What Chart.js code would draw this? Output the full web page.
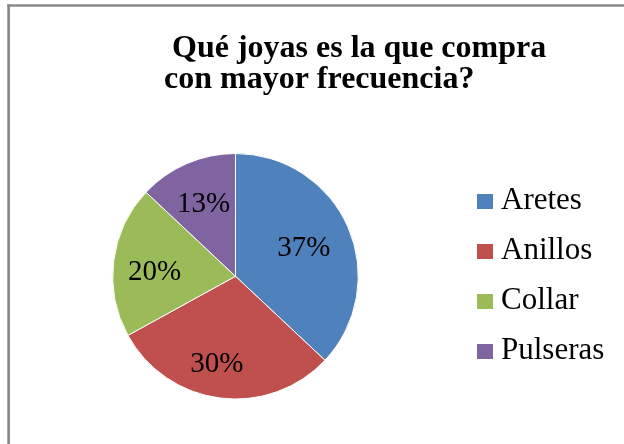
<!DOCTYPE html>
<html>
<head>
<meta charset="utf-8">
<script src="https://cdn.jsdelivr.net/npm/chart.js@4.4.1/dist/chart.umd.min.js"></script>
<style>
html,body{margin:0;padding:0;background:#fff;overflow:hidden}
#wrap{position:relative;width:624px;height:444px}
</style>
</head>
<body>
<div id="wrap"><canvas id="c" width="624" height="444"></canvas></div>
<script>
// ---- data ----
const categories = ['Aretes', 'Anillos', 'Collar', 'Pulseras'];
const values = [37, 30, 20, 13];
const titleLines = ['Qué joyas es la que compra', 'con mayor frecuencia?'];

// ---- styles ----
const colors = ['#4F81BD', '#C0504D', '#9BBB59', '#8064A2'];
const labelRadius = [0.60, 0.73, 0.66, 0.64];   // fraction of radius for % labels
const labelAngleShift = [1.4, 4.8, -4.4, -0.6]; // degrees
const serif = '"Liberation Serif", "Times New Roman", Times, serif';

function swatch(color) {
  const cv = document.createElement('canvas');
  cv.width = 16; cv.height = 15;
  const g = cv.getContext('2d');
  g.fillStyle = color;
  g.fillRect(0, 0, 16, 15);
  return cv;
}
const swatches = colors.map(swatch);

const framePlugin = {
  id: 'frame',
  beforeDraw(chart) {
    const ctx = chart.ctx;
    ctx.save();
    ctx.fillStyle = '#ffffff';
    ctx.fillRect(0, 0, chart.width, chart.height);
    ctx.fillStyle = '#878787';
    ctx.fillRect(7.3, 4.3, chart.width, 2.4);
    ctx.fillRect(7.3, 4.3, 2.7, chart.height);
    ctx.restore();
  }
};

const titlePlugin = {
  id: 'leftTitle',
  afterDraw(chart) {
    const ctx = chart.ctx;
    ctx.save();
    ctx.fillStyle = '#000';
    ctx.font = 'bold 32px ' + serif;
    ctx.textAlign = 'left';
    ctx.textBaseline = 'alphabetic';
    ctx.fillText(titleLines[0], 172, 56.5);
    ctx.fillText(titleLines[1], 164, 88);
    ctx.restore();
  }
};

const pctPlugin = {
  id: 'pctLabels',
  afterDatasetsDraw(chart) {
    const ctx = chart.ctx;
    const meta = chart.getDatasetMeta(0);
    const data = chart.data.datasets[0].data;
    const total = data.reduce((a, b) => a + b, 0);
    ctx.save();
    ctx.fillStyle = '#000';
    ctx.font = '29px ' + serif;
    ctx.textAlign = 'center';
    ctx.textBaseline = 'middle';
    meta.data.forEach((arc, i) => {
      const p = arc.getProps(['x', 'y', 'startAngle', 'endAngle', 'outerRadius'], true);
      const mid = (p.startAngle + p.endAngle) / 2 + labelAngleShift[i] * Math.PI / 180;
      const r = p.outerRadius * labelRadius[i];
      const txt = Math.round(data[i] / total * 100) + '%';
      ctx.fillText(txt, p.x + Math.cos(mid) * r, p.y + Math.sin(mid) * r);
    });
    ctx.restore();
  }
};

new Chart(document.getElementById('c'), {
  type: 'pie',
  data: {
    labels: categories,
    datasets: [{
      data: values,
      backgroundColor: colors,
      borderColor: '#ffffff',
      borderWidth: 1
    }]
  },
  options: {
    responsive: false,
    animation: false,
    events: [],
    layout: { padding: { left: 5.5, right: 13.5, top: 153, bottom: 44.5 } },
    plugins: {
      title: { display: false },
      tooltip: { enabled: false },
      legend: {
        display: true,
        position: 'right',
        align: 'center',
        maxWidth: 145,
        labels: {
          usePointStyle: true,
          pointStyleWidth: 1,
          boxHeight: 15,
          padding: 19,
          color: '#000',
          font: { family: serif, size: 31 },
          generateLabels(chart) {
            return chart.data.labels.map((t, i) => ({
              text: t,
              fillStyle: colors[i],
              strokeStyle: colors[i],
              lineWidth: 0,
              pointStyle: swatches[i],
              hidden: false,
              index: i
            }));
          }
        }
      }
    }
  },
  plugins: [framePlugin, pctPlugin, titlePlugin]
});
</script>
</body>
</html>
